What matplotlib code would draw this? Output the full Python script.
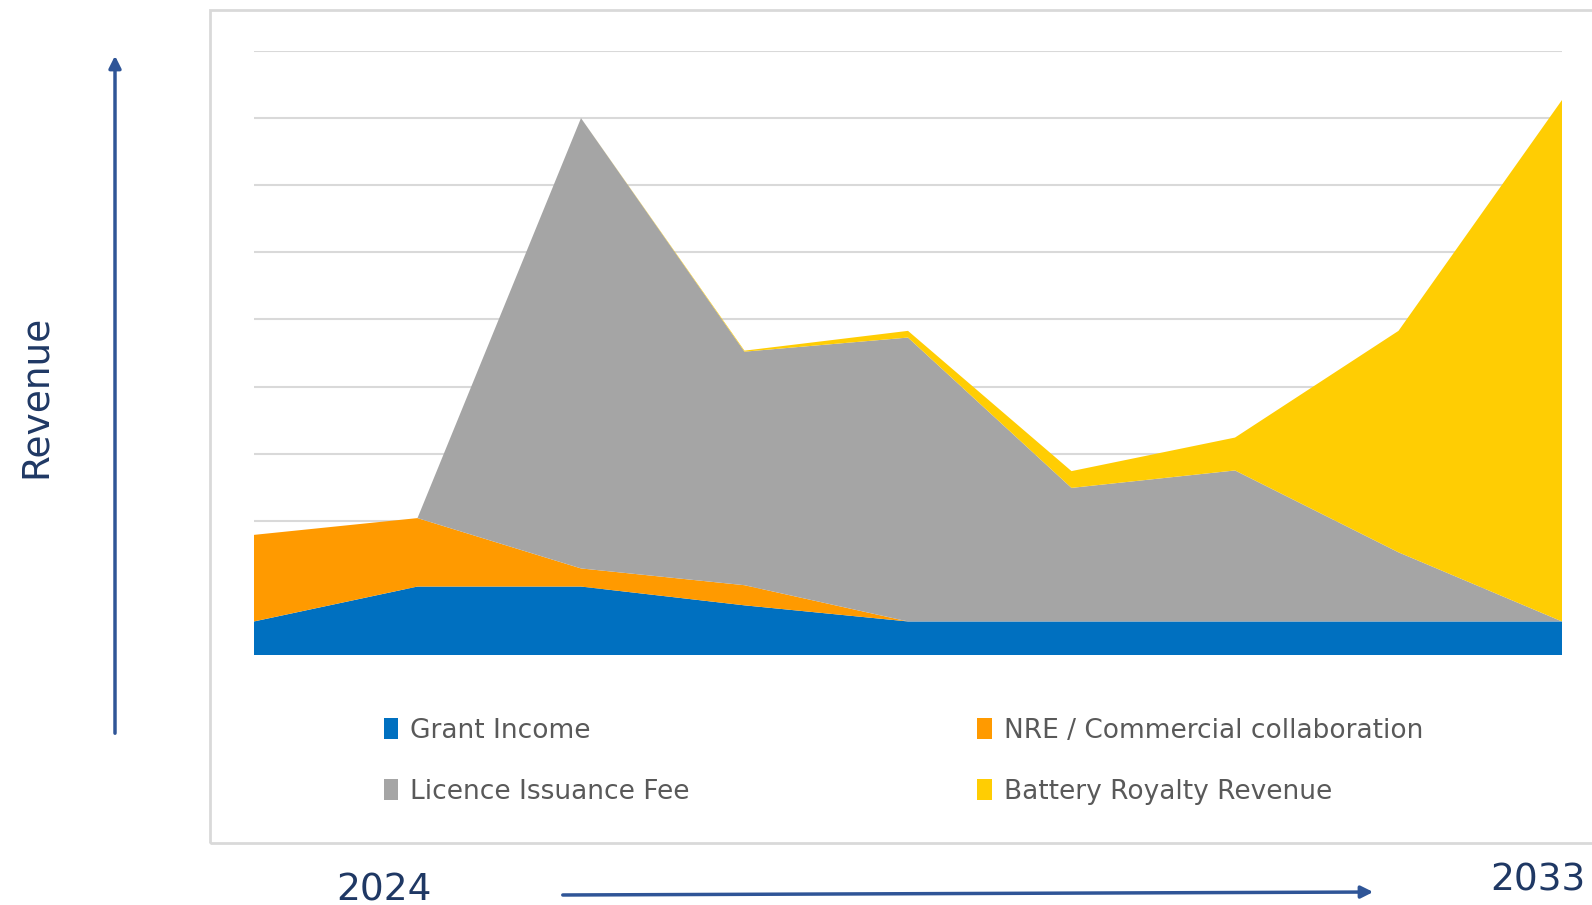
import numpy as np
import matplotlib.pyplot as plt
from matplotlib.patches import Rectangle, FancyArrowPatch

# yearly points, 2024 .. 2033
periods = np.arange(9)
grant = [0.50, 1.02, 1.02, 0.74, 0.50, 0.50, 0.50, 0.50, 0.50]
nre = [1.29, 1.02, 0.27, 0.30, 0.00, 0.00, 0.00, 0.00, 0.00]
licence = [0.00, 0.00, 6.71, 3.48, 4.23, 1.99, 2.25, 1.03, 0.00]
royalty = [0.00, 0.00, 0.00, 0.015, 0.10, 0.25, 0.49, 3.30, 7.77]

labels = ['Grant Income', 'NRE / Commercial collaboration',
          'Licence Issuance Fee', 'Battery Royalty Revenue']
colors = ['#0070C0', '#FF9A00', '#A5A5A5', '#FFCD03']

W, H = 1592, 905
fig = plt.figure(figsize=(W / 100, H / 100), dpi=100)
font = ['Liberation Sans Narrow', 'DejaVu Sans']
navy = '#1F3864'
arrow_col = '#2F5597'

# outer chart frame
fig.patches.append(Rectangle((210 / W, 1 - 843 / H), 1400 / W, 833 / H,
                             transform=fig.transFigure, fill=False,
                             edgecolor='#D9D9D9', linewidth=2))

ax = fig.add_axes([254 / W, 1 - 655 / H, (1562 - 254) / W, (655 - 51) / H])
ax.stackplot(periods, grant, nre, licence, royalty, colors=colors,
             labels=labels, linewidth=0, zorder=2)
for y in range(0, 10):
    ax.axhline(y, color='#D9D9D9', linewidth=1.5, zorder=1)
ax.set_xlim(0, 8)
ax.set_ylim(0, 9)
ax.axis('off')

# legend, two columns below the plot
handles, _ = ax.get_legend_handles_labels()
order = [0, 2, 1, 3]
fig.legend([handles[i] for i in order], [labels[i] for i in order],
           ncol=2, loc='upper left', bbox_to_anchor=(360 / W, 1 - 694 / H),
           frameon=False, handlelength=0.55, handleheight=0.8,
           handletextpad=0.45, columnspacing=10.9, labelspacing=1.32,
           prop={'family': font, 'size': 19}, labelcolor='#595959')

# axis arrows and labels
fig.patches.append(FancyArrowPatch((115 / W, 1 - 736 / H), (115 / W, 1 - 53 / H),
                                   transform=fig.transFigure, arrowstyle='-|>',
                                   mutation_scale=18, color=arrow_col, linewidth=2.5))
fig.patches.append(FancyArrowPatch((560 / W, 1 - 895 / H), (1376 / W, 1 - 892 / H),
                                   transform=fig.transFigure, arrowstyle='-|>',
                                   mutation_scale=18, color=arrow_col, linewidth=2.5))
fig.text(36 / W, 1 - 396 / H, 'Revenue', rotation=90, ha='center', va='center',
         fontsize=27, color=navy, family=font)
fig.text(384 / W, 1 - 890 / H, '2024', ha='center', va='center',
         fontsize=27, color=navy, family=font)
fig.text(1538 / W, 1 - 880 / H, '2033', ha='center', va='center',
         fontsize=27, color=navy, family=font)

fig.savefig('out.png', dpi=100)
